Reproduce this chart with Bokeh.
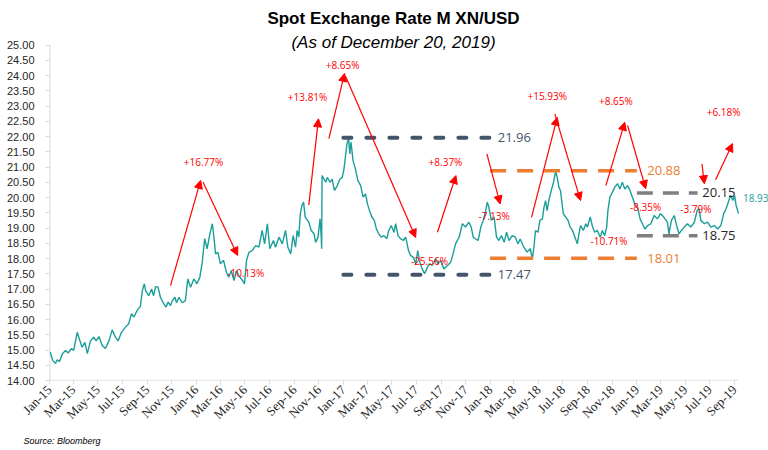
import pandas as pd
from math import pi
from bokeh.plotting import figure
from bokeh.models import (Range1d, FixedTicker, DatetimeTickFormatter, PrintfTickFormatter,
                          Label, Arrow, NormalHead, ColumnDataSource, Title)
from bokeh.core.properties import value
from bokeh.embed import file_html
from bokeh.resources import INLINE

# ---------------- data ----------------
dates = [
    "2015-01-03", "2015-01-09", "2015-01-16", "2015-01-20", "2015-01-26", "2015-02-02", "2015-02-10",
    "2015-02-16", "2015-02-25", "2015-03-02", "2015-03-11", "2015-03-15", "2015-03-23", "2015-03-30",
    "2015-04-05", "2015-04-13", "2015-04-21", "2015-04-27", "2015-05-04", "2015-05-12", "2015-05-20",
    "2015-05-29", "2015-06-06", "2015-06-14", "2015-06-21", "2015-06-29", "2015-07-09", "2015-07-17",
    "2015-07-24", "2015-07-30", "2015-08-07", "2015-08-15", "2015-08-20", "2015-08-25", "2015-08-28",
    "2015-09-05", "2015-09-12", "2015-09-17", "2015-09-22", "2015-09-28", "2015-10-04", "2015-10-12",
    "2015-10-18", "2015-10-23", "2015-10-29", "2015-11-02", "2015-11-09", "2015-11-13", "2015-11-19",
    "2015-11-27", "2015-12-05", "2015-12-11", "2015-12-18", "2015-12-26",
    "2016-01-03", "2016-01-10", "2016-01-16", "2016-01-22", "2016-01-28", "2016-02-04", "2016-02-10",
    "2016-02-14", "2016-02-18", "2016-02-24", "2016-03-01", "2016-03-09", "2016-03-16", "2016-03-22",
    "2016-03-28", "2016-04-04", "2016-04-10", "2016-04-16", "2016-04-25", "2016-04-30", "2016-05-05",
    "2016-05-11", "2016-05-19", "2016-05-28", "2016-06-05", "2016-06-13", "2016-06-19", "2016-06-26",
    "2016-07-02", "2016-07-11", "2016-07-16", "2016-07-25", "2016-08-02", "2016-08-10", "2016-08-16",
    "2016-08-23", "2016-08-29", "2016-09-04", "2016-09-08", "2016-09-12", "2016-09-16", "2016-09-20",
    "2016-09-24", "2016-09-28", "2016-10-07", "2016-10-13", "2016-10-20", "2016-10-24", "2016-10-30",
    "2016-11-04", "2016-11-07", "2016-11-08", "2016-11-09", "2016-11-18", "2016-11-22", "2016-11-29",
    "2016-12-04", "2016-12-10", "2016-12-17", "2016-12-23", "2016-12-29",
    "2017-01-02", "2017-01-06", "2017-01-10", "2017-01-14", "2017-01-17", "2017-01-20", "2017-01-25",
    "2017-01-31", "2017-02-06", "2017-02-13", "2017-02-19", "2017-02-25", "2017-03-02", "2017-03-07",
    "2017-03-13", "2017-03-19", "2017-03-24", "2017-03-30", "2017-04-05", "2017-04-12", "2017-04-19",
    "2017-04-24", "2017-04-30", "2017-05-07", "2017-05-11", "2017-05-17", "2017-05-23", "2017-05-30",
    "2017-06-05", "2017-06-12", "2017-06-17", "2017-06-24", "2017-06-30", "2017-07-05", "2017-07-10",
    "2017-07-16", "2017-07-22", "2017-07-29", "2017-08-04", "2017-08-10", "2017-08-19", "2017-08-24",
    "2017-08-31", "2017-09-08", "2017-09-17", "2017-09-25", "2017-10-02", "2017-10-07", "2017-10-16",
    "2017-10-24", "2017-11-01", "2017-11-09", "2017-11-15", "2017-11-20", "2017-11-26", "2017-12-02",
    "2017-12-09", "2017-12-15", "2017-12-21", "2017-12-25", "2017-12-29",
    "2018-01-04", "2018-01-11", "2018-01-17", "2018-01-23", "2018-01-29", "2018-02-05", "2018-02-11",
    "2018-02-17", "2018-02-25", "2018-03-05", "2018-03-11", "2018-03-17", "2018-03-26", "2018-04-03",
    "2018-04-11", "2018-04-16", "2018-04-20", "2018-04-24", "2018-04-30", "2018-05-05", "2018-05-11",
    "2018-05-15", "2018-05-19", "2018-05-23", "2018-05-27", "2018-06-02", "2018-06-07", "2018-06-13",
    "2018-06-17", "2018-06-21", "2018-06-25", "2018-07-02", "2018-07-08", "2018-07-14", "2018-07-19",
    "2018-07-25", "2018-07-31", "2018-08-06", "2018-08-10", "2018-08-14", "2018-08-21", "2018-08-27",
    "2018-08-31", "2018-09-07", "2018-09-13", "2018-09-18", "2018-09-25", "2018-10-02", "2018-10-07",
    "2018-10-13", "2018-10-18", "2018-10-21", "2018-10-26", "2018-11-01", "2018-11-07", "2018-11-14",
    "2018-11-20", "2018-11-26", "2018-12-02", "2018-12-09", "2018-12-15", "2018-12-21", "2018-12-27",
    "2019-01-03", "2019-01-09", "2019-01-15", "2019-01-21", "2019-01-28", "2019-02-05", "2019-02-13",
    "2019-02-21", "2019-03-01", "2019-03-09", "2019-03-18", "2019-03-22", "2019-03-28", "2019-04-04",
    "2019-04-10", "2019-04-16", "2019-04-22", "2019-04-29", "2019-05-07", "2019-05-15", "2019-05-24",
    "2019-05-31", "2019-06-05", "2019-06-09", "2019-06-18", "2019-06-26", "2019-07-04", "2019-07-13",
    "2019-07-21", "2019-07-29", "2019-08-05", "2019-08-11", "2019-08-15", "2019-08-22", "2019-08-28",
    "2019-09-01", "2019-09-05", "2019-09-11",
]
rate = [
    14.93, 14.66, 14.56, 14.68, 14.62, 14.88, 14.98,
    14.90, 15.05, 14.98, 15.58, 15.41, 15.09, 15.25,
    14.88, 15.30, 15.42, 15.30, 15.44, 15.15, 15.05,
    15.30, 15.66, 15.42, 15.30, 15.58, 15.75, 15.86,
    16.19, 16.08, 16.30, 16.43, 16.95, 17.17, 16.95,
    16.78, 17.00, 16.78, 17.08, 17.06, 16.73, 16.52,
    16.41, 16.57, 16.46, 16.60, 16.73, 16.55, 16.73,
    16.55, 16.62, 17.33, 17.06, 17.33,
    17.17, 17.39, 17.88, 18.65, 18.32, 18.81, 19.14,
    18.70, 18.15, 18.20, 17.83, 17.94, 17.55, 17.39,
    17.60, 17.28, 17.60, 17.44, 17.28, 17.17, 17.93,
    18.20, 18.26, 18.42, 18.37, 18.92, 18.48, 19.14,
    18.32, 18.59, 18.37, 18.70, 18.48, 18.92, 18.37,
    18.15, 18.75, 18.37, 18.92, 18.70, 19.47, 19.74,
    19.85, 19.36, 19.19, 18.92, 18.81, 18.53, 18.70,
    19.30, 18.70, 18.32, 20.72, 20.50, 20.66, 20.50,
    20.60, 20.23, 20.39, 20.60, 20.66,
    20.89, 21.32, 21.76, 21.95, 21.43, 21.82, 21.21,
    20.94, 20.56, 20.39, 20.01, 20.12, 19.79, 19.57,
    19.36, 19.25, 18.97, 18.81, 18.70, 18.75, 18.65,
    18.92, 19.08, 18.86, 19.14, 18.75, 18.65, 18.59,
    18.70, 18.26, 18.10, 18.04, 17.83, 18.26, 17.88,
    17.66, 17.50, 17.71, 17.83, 17.77, 17.99, 17.83,
    17.93, 17.66, 17.77, 17.88, 18.21, 18.48, 18.70,
    19.14, 19.03, 19.19, 19.03, 18.70, 18.64, 18.59,
    19.03, 19.25, 19.57, 19.85, 19.68,
    19.25, 19.36, 18.70, 18.59, 18.75, 18.53, 18.86,
    18.59, 18.75, 18.70, 18.48, 18.64, 18.37, 18.21,
    18.32, 17.99, 18.37, 18.92, 18.86, 19.25, 19.30,
    19.68, 19.90, 19.57, 19.90, 20.23, 20.45, 20.86,
    20.66, 20.34, 20.23, 19.47, 19.36, 19.25, 19.03,
    18.92, 18.70, 18.48, 18.81, 19.08, 18.92, 19.14,
    19.03, 19.36, 19.03, 18.86, 18.92, 18.70, 18.92,
    18.75, 19.03, 19.57, 20.01, 20.17, 20.34, 20.45,
    20.28, 20.50, 20.28, 20.39, 20.23, 20.01, 19.79,
    19.68, 19.30, 19.14, 18.97, 19.08, 19.14, 19.41,
    19.30, 19.47, 19.36, 19.19, 18.81, 19.25, 19.41,
    19.08, 18.81, 18.92, 19.03, 19.14, 19.03, 19.19,
    19.57, 19.63, 19.25, 19.14, 19.19, 19.03, 19.08,
    18.97, 19.08, 19.47, 19.63, 19.79, 20.07, 19.90,
    20.07, 19.74, 19.47,
]

# arrows (annotation) : start/end in data coordinates
arrow_start_date = ["2015-10-29", "2016-01-18", "2016-10-07", "2016-11-26", "2017-01-07", "2017-08-23",
                    "2017-12-24", "2018-04-14", "2018-06-11", "2018-10-16", "2018-12-09", "2019-06-12",
                    "2019-07-16"]
arrow_start_val = [17.11, 20.50, 19.75, 21.93, 23.96, 18.86, 21.43, 19.35, 22.74, 20.39, 22.36, 21.10, 20.58]
arrow_end_date = ["2016-01-12", "2016-04-13", "2016-10-31", "2017-01-04", "2017-06-30", "2017-10-08",
                  "2018-01-26", "2018-06-17", "2018-08-14", "2018-12-02", "2019-01-23", "2019-06-18",
                  "2019-08-27"]
arrow_end_val = [20.56, 18.10, 22.58, 24.07, 18.69, 20.72, 19.79, 22.63, 19.90, 22.47, 20.29, 20.45, 21.77]

pct_text = ["+16.77%", "-10.13%", "+13.81%", "+8.65%", "-25.56%", "+8.37%", "-7.13%", "+15.93%",
            "-10.71%", "+8.65%", "-8.35%", "-3.79%", "+6.18%"]
pct_date = ["2016-01-19", "2016-05-03", "2016-10-04", "2016-12-30", "2017-08-03", "2017-09-12",
            "2018-01-11", "2018-05-23", "2018-10-24", "2018-11-10", "2019-01-23", "2019-05-28",
            "2019-08-05"]
pct_val = [21.18, 17.54, 23.31, 24.36, 17.93, 21.16, 19.41, 23.34, 18.57, 23.16, 19.69, 19.62, 22.80]

# support / resistance levels
lvl_val = [21.96, 17.47, 20.88, 18.01, 20.15, 18.75]
lvl_text = ["21.96", "17.47", "20.88", "18.01", "20.15", "18.75"]
lvl_start = ["2017-01-01", "2017-01-01", "2018-01-01", "2018-01-01", "2019-01-01", "2019-01-01"]
lvl_end = ["2018-01-01", "2018-01-01", "2019-01-01", "2019-01-01", "2019-06-01", "2019-06-01"]
lvl_label_date = ["2018-01-20", "2018-01-20", "2019-01-27", "2019-01-27", "2019-06-13", "2019-06-13"]
lvl_group = ["dark", "dark", "orange", "orange", "grey", "grey"]

last_label = "18.93"
last_label_date = "2019-09-22"
last_label_y = 20.0

y_ticks = [14 + 0.5 * i for i in range(23)]
tick_dates = pd.date_range("2015-01-01", "2019-09-01", freq="2MS")

# ---------------- styling ----------------
TEAL = "#1A9E9A"
RED = "#FF0000"
DARK = "#44546A"
ORANGE = "#ED7D31"
GREY = "#7F7F7F"
AX = "#D9D9D9"
FONT = "Open Sans"

axis_x0 = pd.Timestamp("2015-01-01")
axis_x1 = pd.Timestamp("2019-09-11")
# frame spans the full drawing area; axis lines are drawn only over the data extent
x_start = pd.Timestamp("2015-01-01")
x_end = pd.Timestamp("2019-11-24 12:00")

p = figure(width=768, height=450, x_axis_type="datetime",
           x_range=Range1d(x_start, x_end), y_range=Range1d(14, 26.46),
           output_backend="svg", toolbar_location=None,
           min_border_left=49, min_border_right=0, min_border_top=0, min_border_bottom=70)
p.outline_line_color = None
p.xgrid.grid_line_color = None
p.ygrid.grid_line_color = None
p.background_fill_color = "white"
p.border_fill_color = "white"

# axis base lines
p.segment(x0=[axis_x0], y0=[14], x1=[axis_x1], y1=[14], line_color=AX, line_width=1.5)
p.segment(x0=[axis_x0], y0=[14], x1=[axis_x0], y1=[25], line_color=AX, line_width=2)

# series
src = ColumnDataSource(dict(x=pd.to_datetime(dates), y=rate))
p.line("x", "y", source=src, line_color=TEAL, line_width=1.4)

# levels
styles = {"dark": dict(color=DARK, width=4, dash="8 15", cap="round", tcolor=DARK),
          "orange": dict(color=ORANGE, width=3.5, dash="16 11", cap="butt", tcolor=ORANGE),
          "grey": dict(color=GREY, width=3.5, dash="16 10", cap="butt", tcolor="#262626")}
for g, st in styles.items():
    idx = [i for i, k in enumerate(lvl_group) if k == g]
    s = ColumnDataSource(dict(x0=pd.to_datetime([lvl_start[i] for i in idx]),
                              x1=pd.to_datetime([lvl_end[i] for i in idx]),
                              y=[lvl_val[i] for i in idx],
                              lx=pd.to_datetime([lvl_label_date[i] for i in idx]),
                              t=[lvl_text[i] for i in idx]))
    p.segment(x0="x0", y0="y", x1="x1", y1="y", source=s, line_color=st["color"],
              line_width=st["width"], line_dash=st["dash"], line_cap=st["cap"])
    p.text(x="lx", y="y", text="t", source=s, text_color=st["tcolor"], text_font=value(FONT),
           text_font_size="13px", text_align="left", text_baseline="middle")

# arrows
asrc = ColumnDataSource(dict(x0=pd.to_datetime(arrow_start_date), y0=arrow_start_val,
                             x1=pd.to_datetime(arrow_end_date), y1=arrow_end_val))
p.add_layout(Arrow(end=NormalHead(size=8, fill_color=RED, line_color=RED, line_width=1),
                   x_start="x0", y_start="y0", x_end="x1", y_end="y1", source=asrc,
                   line_color=RED, line_width=1.2))

# percentage labels
psrc = ColumnDataSource(dict(x=pd.to_datetime(pct_date), y=pct_val, t=pct_text))
p.text(x="x", y="y", text="t", source=psrc, text_color=RED, text_font=value(FONT),
       text_font_size="10px", text_align="center", text_baseline="middle")

# last value label
p.text(x=[pd.Timestamp(last_label_date)], y=[last_label_y], text=[last_label],
       text_color=TEAL, text_font=value(FONT), text_font_size="10px",
       text_align="left", text_baseline="middle")

# titles (screen units relative to frame bottom-left)
p.add_layout(Label(x=344, y=362, x_units="screen", y_units="screen",
                   text="Spot Exchange Rate M XN/USD", text_font="Liberation Sans",
                   text_font_style="bold", text_font_size="17px", text_color="#000000",
                   text_align="center", text_baseline="middle"))
p.add_layout(Label(x=344, y=338, x_units="screen", y_units="screen",
                   text="(As of December 20, 2019)", text_font="Liberation Sans",
                   text_font_style="italic", text_font_size="17px", text_color="#000000",
                   text_align="center", text_baseline="middle"))
p.add_layout(Title(text="Source: Bloomberg", align="left", offset=-26, standoff=6,
                   text_font="Liberation Sans", text_font_style="italic",
                   text_font_size="9px", text_color="#000000"), "below")

# axes
xa = p.xaxis[0]
xa.ticker = FixedTicker(ticks=[t.value / 1e6 for t in tick_dates])
fmt = "%b-%y"
xa.formatter = DatetimeTickFormatter(microseconds=fmt, milliseconds=fmt, seconds=fmt, minsec=fmt,
                                     minutes=fmt, hourmin=fmt, hours=fmt, days=fmt, months=fmt,
                                     years=fmt)
xa.major_label_orientation = pi / 4
xa.major_label_text_font = "Liberation Serif"
xa.major_label_text_font_size = "13px"
xa.major_label_text_color = "#262626"
xa.major_label_standoff = 3
xa.axis_line_color = None
xa.major_tick_line_color = AX
xa.major_tick_out = 4
xa.major_tick_in = 0
xa.minor_tick_line_color = None

ya = p.yaxis[0]
ya.ticker = FixedTicker(ticks=y_ticks)
ya.formatter = PrintfTickFormatter(format="%.2f")
ya.major_label_text_font = "Liberation Sans"
ya.major_label_text_font_size = "11px"
ya.major_label_text_color = "#262626"
ya.major_label_standoff = 11
ya.axis_line_color = None
ya.major_tick_line_color = AX
ya.major_tick_out = 4
ya.major_tick_in = 0
ya.minor_tick_line_color = None

open("out.html", "w").write(file_html(p, INLINE))
